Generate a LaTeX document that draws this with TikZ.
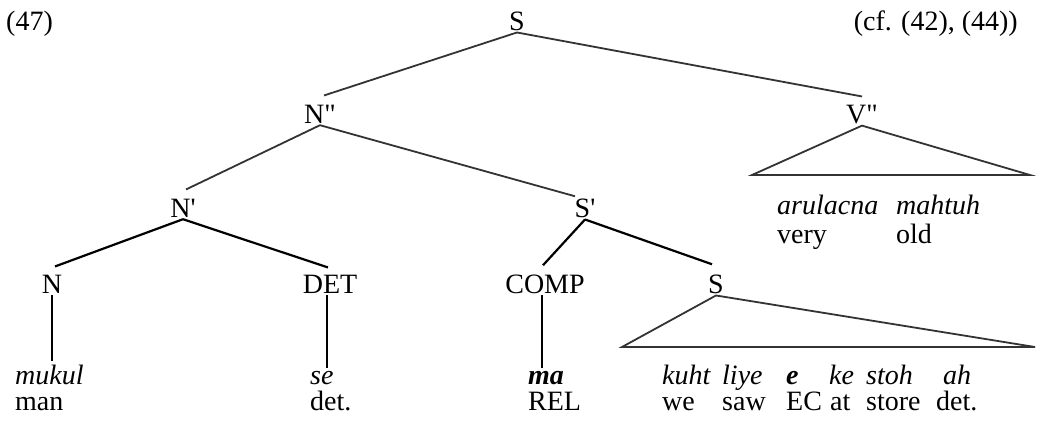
\documentclass[tikz,border=0pt]{standalone}
\usepackage{fontspec}
\setmainfont{Liberation Serif}[Ligatures=TeXOff]
\begin{document}
\begin{tikzpicture}[x=1pt,y=-1pt,
  lab/.style={inner sep=2pt, font=\fontsize{28}{32}\selectfont, anchor=base},
  word/.style={inner sep=0pt, font=\fontsize{28}{32}\selectfont\itshape, anchor=base west},
  bword/.style={inner sep=0pt, font=\fontsize{28}{32}\selectfont\itshape\bfseries, anchor=base west},
  gloss/.style={inner sep=0pt, font=\fontsize{28}{32}\selectfont, anchor=base west},
  thinline/.style={line width=1.8pt, black!80},
  thickline/.style={line width=2.2pt, black},
  vline/.style={line width=1.5pt, black},
  tri/.style={line width=1.8pt, black!80, line join=miter}]
\useasboundingbox (0,0) rectangle (1038,421);
% header
\node[gloss] (ex) at (6,30) {(47)};
\node[gloss, anchor=base east] (cf) at (1018,30) {(cf. (42), (44))};
% tree labels
\node[lab] (S) at (517,30) {S};
\node[lab] (Npp) at (320,123) {N"};
\node[lab] (Vpp) at (862,123) {V"};
\node[lab] (Np) at (183,217) {N'};
\node[lab] (Sp) at (585,217) {S'};
\node[lab] (N) at (52,293) {N};
\node[lab] (DET) at (330,293) {DET};
\node[lab] (COMP) at (545,293) {COMP};
\node[lab] (S2) at (716,293) {S};
% connectors
\draw[thinline] (S.south) -- ([xshift=4pt,yshift=7pt]Npp.north);
\draw[thinline] (S.south) -- ([yshift=6pt]Vpp.north);
\draw[thinline] (Npp.south) -- ([xshift=3pt,yshift=7pt]Np.north);
\draw[thinline] (Npp.south) -- ([xshift=-10pt]Sp.north);
\draw[thickline] (Np.south) -- ([xshift=3pt,yshift=6pt]N.north);
\draw[thickline] (Np.south) -- ([xshift=-2pt,yshift=5pt]DET.north);
\draw[thickline] (Sp.south) -- ([xshift=-2pt,yshift=7pt]COMP.north);
\draw[thickline] (Sp.south) -- ([xshift=-4pt,yshift=8pt]S2.north);
% triangles
\coordinate (VL) at (752,175);
\coordinate (VR) at (1030,175);
\draw[tri] (Vpp.south) -- (VL) -- (VR) -- cycle;
\coordinate (SL) at (622,347);
\coordinate (SR) at (1035,347);
\draw[tri] (S2.south) -- (SL) -- (SR) -- cycle;
% V'' words
\node[word] (w1) at (777,214) {arulacna};
\node[word] (w2) at (896,214) {mahtuh};
\node[gloss] (g1) at (777,243) {very};
\node[gloss] (g2) at (896,243) {old};
% bottom words
\node[word] (mukul) at (15,384) {mukul};
\node[gloss] (man) at (15,410) {man};
\node[word] (se) at (310,384) {se};
\node[gloss] (det1) at (310,410) {det.};
\node[bword] (ma) at (528,384) {ma};
\node[gloss] (rel) at (528,410) {REL};
\node[word] (kuht) at (662,384) {kuht};
\node[gloss] (we) at (662,410) {we};
\node[word] (liye) at (722,384) {liye};
\node[gloss] (saw) at (722,410) {saw};
\node[bword] (e) at (786,384) {e};
\node[gloss] (ec) at (786,410) {EC};
\node[word] (ke) at (829,384) {ke};
\node[gloss] (at) at (830,410) {at};
\node[word] (stoh) at (866,384) {stoh};
\node[gloss] (store) at (866,410) {store};
\node[word] (ah) at (943,384) {ah};
\node[gloss] (det2) at (936,410) {det.};
% vertical lines
\draw[vline] (N.south) -- ([yshift=3pt]N.south |- mukul.north);
\draw[vline] ([xshift=-3pt]DET.south) -- ([xshift=-3pt,yshift=3pt]DET.south |- se.north);
\draw[vline] ([xshift=-3pt]COMP.south) -- ([xshift=-3pt,yshift=3pt]COMP.south |- ma.north);
\end{tikzpicture}
\end{document}
